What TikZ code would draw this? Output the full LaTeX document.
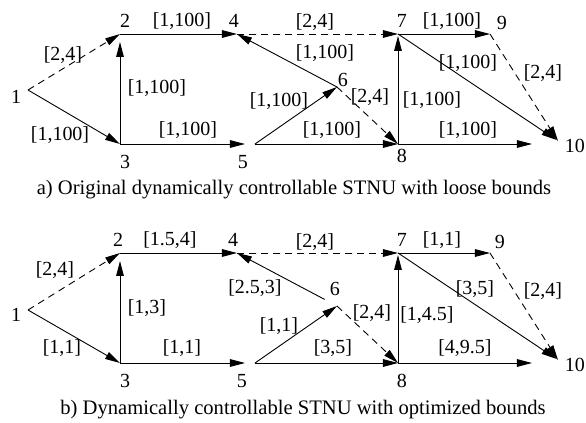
\documentclass[tikz,border=0pt]{standalone}
\usepackage{fontspec}
\setmainfont{Liberation Serif}
\usetikzlibrary{arrows.meta}

\begin{document}
\begin{tikzpicture}[x=0.5pt, y=-0.5pt, font=\fontsize{10}{12}\selectfont]
    \tikzstyle{arrow} = [line width=0.45pt, -{Triangle[length=7.5pt, width=3.8pt]}]
    \tikzstyle{contingent} = [dash pattern=on 3.5pt off 2.5pt]
    \tikzstyle{bound} = [inner sep=0pt]
    \tikzstyle{num} = [inner sep=0pt]
    \tikzstyle{caption} = [inner sep=0pt, font=\fontsize{10.3}{12}\selectfont]
    \useasboundingbox (0,0) rectangle (586,423);

    % Both networks share the same layout; the second one sits 219 units
    % lower. The time points are bare coordinates, their numbers are set
    % apart from them so that the edges meet exactly at the points.
    \coordinate (a1) at (28,90);
    \coordinate (a2) at (120,34);
    \coordinate (a3) at (120,144);
    \coordinate (a4) at (237,34);
    \coordinate (a5) at (255,144);
    \coordinate (a6) at (337,87);
    \coordinate (a7) at (398,34);
    \coordinate (a8) at (398,144);
    \coordinate (a9) at (490,34);
    \coordinate (a10) at (558,141);

    \node (na1) [num] at (16,97) {1};
    \node (na2) [num] at (125,21) {2};
    \node (na3) [num] at (125,162) {3};
    \node (na4) [num] at (234,21) {4};
    \node (na5) [num] at (243,162) {5};
    \node (na6) [num] at (343,80) {6};
    \node (na7) [num] at (402,21) {7};
    \node (na8) [num] at (402,156) {8};
    \node (na9) [num] at (502,23) {9};
    \node (na10) [num] at (575,146) {10};

    \draw [arrow, contingent] (a1) -- (a2);
    \draw [arrow] (a1) -- (a3);
    \draw [arrow, shorten >=4pt] (a3) -- (a2);
    \draw [arrow] (a2) -- (a4);
    \draw [arrow, shorten >=5pt] (a3) -- (a5);
    \draw [arrow, contingent] (a4) -- (a7);
    \draw [arrow] (a6) -- (a4);
    \draw [arrow] (a5) -- (a6);
    \draw [arrow, contingent] (a6) -- (a8);
    \draw [arrow] (a5) -- (a8);
    \draw [arrow, shorten >=1pt] (a8) -- (a7);
    \draw [arrow] (a7) -- (a9);
    \draw [arrow, shorten >=1pt] (a7) -- (a10);
    \draw [arrow, contingent] (a9) -- (a10);
    \draw [arrow, shorten >=13pt] (a8) -- (a8 -| a10);

    \node (wa12) [bound] at (63,55) {[2,4]};
    \node (wa13) [bound] at (60,135) {[1,100]};
    \node (wa32) [bound] at (157,88) {[1,100]};
    \node (wa24) [bound] at (182,21) {[1,100]};
    \node (wa35) [bound] at (188,130) {[1,100]};
    \node (wa47) [bound] at (315,22) {[2,4]};
    \node (wa64) [bound] at (325,53) {[1,100]};
    \node (wa56) [bound] at (279,101) {[1,100]};
    \node (wa68) [bound] at (370,97) {[2,4]};
    \node (wa58) [bound] at (332,130) {[1,100]};
    \node (wa87) [bound] at (432,100) {[1,100]};
    \node (wa79) [bound] at (452,21) {[1,100]};
    \node (wa710) [bound] at (468,63) {[1,100]};
    \node (wa910) [bound] at (543,73) {[2,4]};
    \node (wa810) [bound] at (468,130) {[1,100]};

    \node (capa) [caption] at (294,190)
        {a) Original dynamically controllable STNU with loose bounds};

    % Second network: same points, tightened bounds.
    \coordinate (b1) at (28,310);
    \coordinate (b2) at (120,253);
    \coordinate (b3) at (120,363);
    \coordinate (b4) at (237,253);
    \coordinate (b5) at (255,363);
    \coordinate (b6) at (337,306);
    \coordinate (b7) at (398,253);
    \coordinate (b8) at (398,363);
    \coordinate (b9) at (490,253);
    \coordinate (b10) at (558,360);

    \node (nb1) [num] at (16,315) {1};
    \node (nb2) [num] at (118,240) {2};
    \node (nb3) [num] at (125,381) {3};
    \node (nb4) [num] at (233,240) {4};
    \node (nb5) [num] at (242,381) {5};
    \node (nb6) [num] at (335,289) {6};
    \node (nb7) [num] at (402,240) {7};
    \node (nb8) [num] at (402,381) {8};
    \node (nb9) [num] at (500,242) {9};
    \node (nb10) [num] at (575,365) {10};

    \draw [arrow, contingent] (b1) -- (b2);
    \draw [arrow] (b1) -- (b3);
    \draw [arrow, shorten >=4pt] (b3) -- (b2);
    \draw [arrow] (b2) -- (b4);
    \draw [arrow, shorten >=5pt] (b3) -- (b5);
    \draw [arrow, contingent] (b4) -- (b7);
    \draw [arrow, shorten <=7pt] (b6) -- (b4);
    \draw [arrow] (b5) -- (b6);
    \draw [arrow, contingent] (b6) -- (b8);
    \draw [arrow] (b5) -- (b8);
    \draw [arrow, shorten >=1pt] (b8) -- (b7);
    \draw [arrow] (b7) -- (b9);
    \draw [arrow, shorten >=1pt] (b7) -- (b10);
    \draw [arrow, contingent] (b9) -- (b10);
    \draw [arrow, shorten >=13pt] (b8) -- (b8 -| b10);

    \node (wb12) [bound] at (55,270) {[2,4]};
    \node (wb13) [bound] at (62,348) {[1,1]};
    \node (wb32) [bound] at (147,308) {[1,3]};
    \node (wb24) [bound] at (170,240) {[1.5,4]};
    \node (wb35) [bound] at (182,348) {[1,1]};
    \node (wb47) [bound] at (315,242) {[2,4]};
    \node (wb64) [bound] at (255,288) {[2.5,3]};
    \node (wb56) [bound] at (279,326) {[1,1]};
    \node (wb68) [bound] at (372,313) {[2,4]};
    \node (wb58) [bound] at (333,348) {[3,5]};
    \node (wb87) [bound] at (427,315) {[1,4.5]};
    \node (wb79) [bound] at (442,240) {[1,1]};
    \node (wb710) [bound] at (475,289) {[3,5]};
    \node (wb910) [bound] at (543,291) {[2,4]};
    \node (wb810) [bound] at (465,348) {[4,9.5]};

    \node (capb) [caption] at (303,410)
        {b) Dynamically controllable STNU with optimized bounds};
\end{tikzpicture}
\end{document}
